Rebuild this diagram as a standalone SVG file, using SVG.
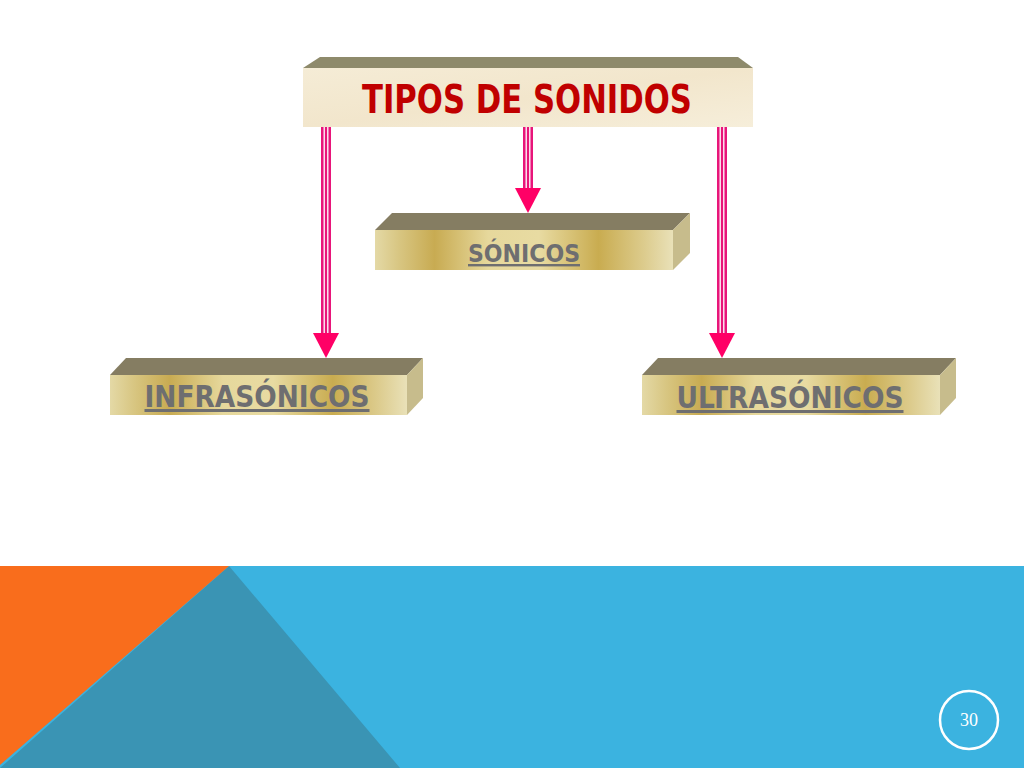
<svg xmlns="http://www.w3.org/2000/svg" width="1024" height="768" viewBox="0 0 1024 768">
<defs>
<linearGradient id="gold" x1="0" y1="0" x2="1" y2="0">
<stop offset="0" stop-color="#E4D9A6"/>
<stop offset="0.08" stop-color="#D8C682"/>
<stop offset="0.2" stop-color="#C8AB52"/>
<stop offset="0.38" stop-color="#E6D89C"/>
<stop offset="0.55" stop-color="#E8DBA2"/>
<stop offset="0.75" stop-color="#C9AC50"/>
<stop offset="0.9" stop-color="#DCCB8C"/>
<stop offset="1" stop-color="#E9E1B8"/>
</linearGradient>
<linearGradient id="cream" x1="0" y1="0" x2="1" y2="1">
<stop offset="0" stop-color="#F5ECD6"/>
<stop offset="0.5" stop-color="#F2E6CC"/>
<stop offset="1" stop-color="#F6EEDA"/>
</linearGradient>
<style>
.top{fill:#857D62}
.side{fill:#C7BC8C}
.front{fill:url(#gold)}
.lbl{font-family:"Liberation Sans Narrow","DejaVu Sans Condensed","Liberation Sans",sans-serif;font-weight:bold;fill:#6E6E70;text-anchor:middle;text-decoration:underline}
.shaft{fill:#E8157A}
.gap{stroke:#FFFFFF;stroke-width:1.3}
.head{fill:#FF0066}
</style>
</defs>
<rect width="1024" height="768" fill="#FFFFFF"/>
<g id="background">
<rect x="0" y="566" width="1024" height="202" fill="#3BB3E0"/>
<polygon points="229,566 400,768 0,768" fill="#3A94B4"/>
<polygon points="0,566 229,566 0,765" fill="#F96D1C"/>
<circle cx="969" cy="720" r="29" fill="none" stroke="#FFFFFF" stroke-width="2.5"/>
<text x="969" y="726" font-family="'Liberation Serif',serif" font-size="18" fill="#FFFFFF" text-anchor="middle">30</text>
</g>
<g id="connectors">
<g id="arrow-sonicos">
<rect class="shaft" x="523" y="127" width="10" height="62"/>
<line class="gap" x1="526.2" y1="127" x2="526.2" y2="189"/>
<line class="gap" x1="529.8" y1="127" x2="529.8" y2="189"/>
<polygon class="head" points="515,188 541,188 528,213"/>
</g>
<g id="arrow-infra">
<rect class="shaft" x="321" y="127" width="10" height="207"/>
<line class="gap" x1="324.2" y1="127" x2="324.2" y2="334"/>
<line class="gap" x1="327.8" y1="127" x2="327.8" y2="334"/>
<polygon class="head" points="313,333 339,333 326,358"/>
</g>
<g id="arrow-ultra">
<rect class="shaft" x="717" y="127" width="10" height="207"/>
<line class="gap" x1="720.2" y1="127" x2="720.2" y2="334"/>
<line class="gap" x1="723.8" y1="127" x2="723.8" y2="334"/>
<polygon class="head" points="709,333 735,333 722,358"/>
</g>
</g>
<g id="node-tipos">
<polygon points="303,68 320,57 738,57 753,68" fill="#8E8A6B"/>
<rect x="303" y="68" width="450" height="59" fill="url(#cream)"/>
<text x="527" y="113" font-family="'Liberation Sans Narrow','DejaVu Sans Condensed','Liberation Sans',sans-serif" font-weight="bold" font-size="39" fill="#C00000" text-anchor="middle" textLength="330" lengthAdjust="spacingAndGlyphs">TIPOS DE SONIDOS</text>
</g>
<g id="node-sonicos">
<polygon class="top" points="375,230 392,213 690,213 673,230"/>
<polygon class="side" points="673,230 690,213 690,253 673,270"/>
<rect class="front" x="375" y="230" width="298" height="40"/>
<text class="lbl" x="524" y="262" font-size="24" textLength="112" lengthAdjust="spacingAndGlyphs">SÓNICOS</text>
</g>
<g id="node-infra">
<polygon class="top" points="110,375 126,358 423,358 407,375"/>
<polygon class="side" points="407,375 423,358 423,398 407,415"/>
<rect class="front" x="110" y="375" width="297" height="40"/>
<text class="lbl" x="257" y="407" font-size="30" textLength="225" lengthAdjust="spacingAndGlyphs">INFRASÓNICOS</text>
</g>
<g id="node-ultra">
<polygon class="top" points="642,375 658,358 956,358 940,375"/>
<polygon class="side" points="940,375 956,358 956,398 940,415"/>
<rect class="front" x="642" y="375" width="298" height="40"/>
<text class="lbl" x="790" y="408" font-size="30" textLength="227" lengthAdjust="spacingAndGlyphs">ULTRASÓNICOS</text>
</g>
</svg>
